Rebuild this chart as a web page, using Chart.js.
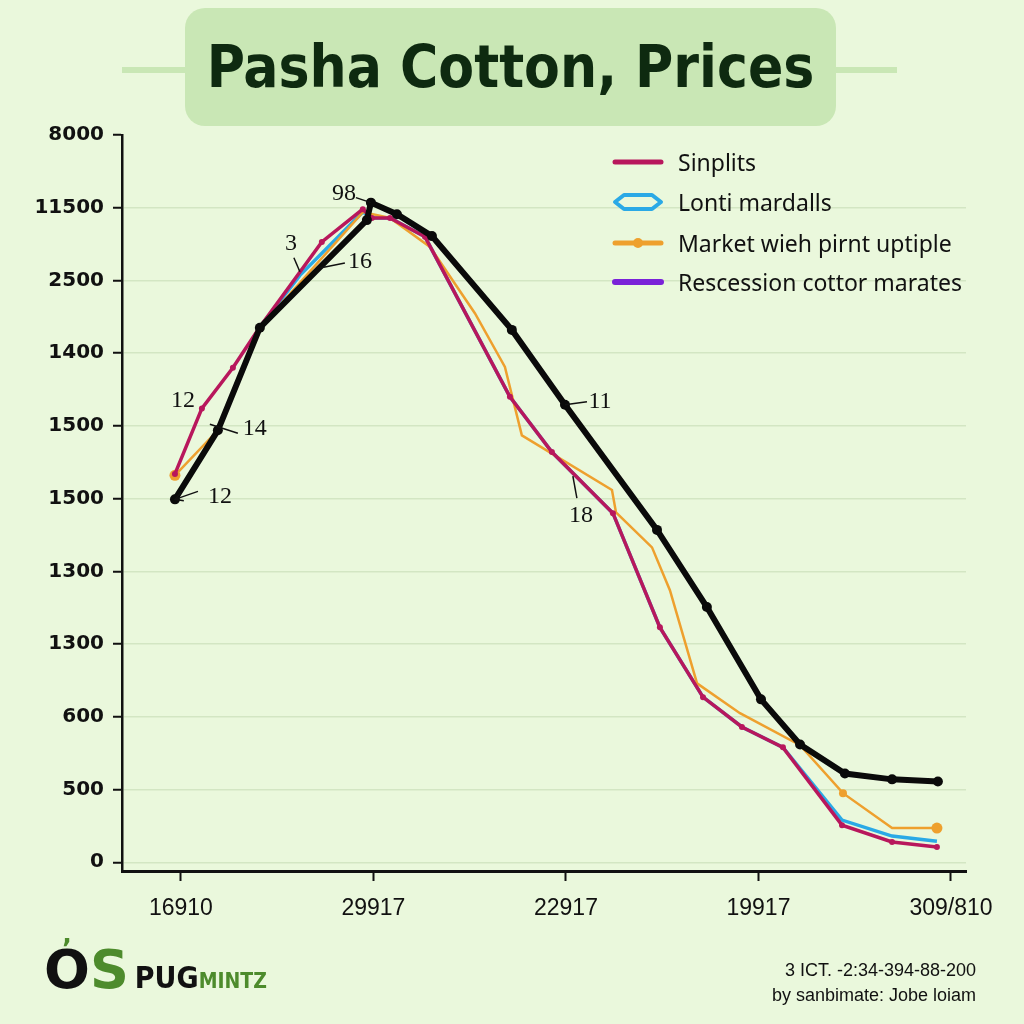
<!DOCTYPE html>
<html>
<head>
<meta charset="utf-8">
<script src="https://cdn.jsdelivr.net/npm/chart.js@4/dist/chart.umd.min.js"></script>
<style>
  html,body{margin:0;padding:0;background:#eaf8dc;}
  #wrap{position:relative;width:1024px;height:1024px;overflow:hidden;background:#eaf8dc;}
  canvas{position:absolute;left:0;top:0;}
  .deco{position:absolute;top:67px;height:6px;background:#c9e7b5;}
  #titlebox{position:absolute;left:185px;top:8px;width:651px;height:118px;background:#c9e7b5;border-radius:20px;
    display:flex;align-items:center;justify-content:center;}
  #title{font-family:"DejaVu Sans",sans-serif;font-stretch:condensed;font-weight:bold;font-size:58px;color:#0e2a10;
    white-space:nowrap;letter-spacing:0px;}
  #legend{position:absolute;left:612px;top:142px;font-family:"Noto Sans",sans-serif;font-size:23px;color:#111;}
  .lrow{position:absolute;left:0;height:40px;display:flex;align-items:center;white-space:nowrap;}
  .lrow svg{width:52px;height:24px;margin-right:14px;}
  #logo{position:absolute;left:44px;top:938px;white-space:nowrap;font-family:"DejaVu Sans",sans-serif;}
  #credit{position:absolute;right:48px;top:958px;text-align:right;font-family:"Liberation Sans Narrow","Liberation Sans",sans-serif;
    font-size:18px;line-height:25px;color:#111;}
</style>
</head>
<body>
<div id="wrap">
  <canvas id="c" width="1024" height="1024"></canvas>
  <div class="deco" style="left:122px;width:66px;"></div>
  <div class="deco" style="left:833px;width:64px;"></div>
  <div id="titlebox"><div id="title">Pasha Cotton, Prices</div></div>
  <div id="legend"></div>
  <div id="logo"><span style="font-size:54px;font-weight:bold;color:#111;position:relative;">O<span style="position:absolute;left:18px;top:-4px;font-size:26px;color:#4d8b2c;">&#x2019;</span></span><span style="font-size:54px;font-weight:bold;color:#4d8b2c;">S</span><span style="font-size:30px;font-weight:bold;color:#111;margin-left:6px;font-stretch:condensed;">PUG</span><span style="font-size:21px;font-weight:bold;color:#4d8b2c;font-stretch:condensed;">MINTZ</span></div>
  <div id="credit">3 ICT. -2:34-394-88-200<br>by sanbimate: Jobe loiam</div>
</div>
<script>
// ---------- data ----------
const seriesNames = ['Sinplits', 'Lonti mardalls', 'Market wieh pirnt uptiple', 'Rescession cottor marates'];
const xTickValues = [0, 1, 2, 3, 4];
const xTickLabels = ['16910', '29917', '22917', '19917', '309/810'];
const yTickValues = [0, 1, 2, 3, 4, 5, 6, 7, 8, 9, 10];
const yTickLabels = ['0', '500', '600', '1300', '1300', '1500', '1500', '1400', '2500', '11500', '8000'];

const blackX = [-0.031, 0.192, 0.410, 0.966, 0.987, 1.122, 1.304, 1.719, 1.995, 2.473, 2.732, 3.013, 3.216, 3.449, 3.694, 3.932];
const blackY = [4.99, 5.94, 7.35, 8.83, 9.07, 8.91, 8.61, 7.32, 6.29, 4.57, 3.51, 2.24, 1.62, 1.22, 1.14, 1.11];

const sinplitsX = [-0.031, 0.109, 0.270, 0.410, 0.732, 0.945, 0.992, 1.086, 1.268, 1.709, 1.927, 2.244, 2.488, 2.712, 2.914, 3.127, 3.434, 3.694, 3.927];
const sinplitsY = [5.34, 6.24, 6.80, 7.36, 8.53, 8.98, 8.86, 8.86, 8.60, 6.40, 5.64, 4.80, 3.23, 2.27, 1.86, 1.58, 0.51, 0.28, 0.21];

const lontiX = [0.410, 0.618, 0.945, 0.992, 1.086, 1.268, 1.709, 1.927, 2.244, 2.488, 2.712, 2.914, 3.127, 3.434, 3.694, 3.927];
const lontiY = [7.36, 8.07, 8.94, 8.86, 8.86, 8.60, 6.40, 5.64, 4.80, 3.23, 2.27, 1.86, 1.58, 0.58, 0.36, 0.29];

const marketX = [-0.031, 0.192, 0.410, 0.945, 1.086, 1.294, 1.527, 1.683, 1.771, 2.239, 2.260, 2.447, 2.540, 2.681, 2.904, 3.216, 3.439, 3.694, 3.927];
const marketY = [5.32, 5.94, 7.35, 8.94, 8.86, 8.46, 7.55, 6.81, 5.87, 5.12, 4.81, 4.33, 3.74, 2.46, 2.05, 1.61, 0.95, 0.47, 0.47];

const recessionX = [];
const recessionY = [];

// callout labels anchored to data points
const noteLabels = ['98', '3', '16', '12', '14', '12', '11', '18'];
const noteX = [0.987, 0.618, 0.722, 0.109, 0.192, -0.031, 1.995, 2.036];
const noteY = [9.07, 8.12, 8.17, 6.24, 5.94, 4.99, 6.29, 5.31];

// ---------- styles ----------
const colors = {black:'#0a0a0a', sinplits:'#b8175c', lonti:'#2aa9e6', market:'#eea02e', recession:'#7a22d8'};
// text offset, leader start offset (px) for each note
const noteStyle = [
  {tx:-27, ty:-9, l:[-15,-5]},
  {tx:-9, ty:-28, l:[-6,-14]},
  {tx:40, ty:-6, l:[25,-5]},
  {tx:-19, ty:-8, l:null},
  {tx:37, ty:-2, l:[20,3], from:[-8,-6]},
  {tx:45, ty:-3, l:[23,-8], arrow:true},
  {tx:35, ty:-3, l:[22,-3]},
  {tx:8, ty:40, l:[4,22]}
];

const toPts = (xs, ys) => xs.map((x, i) => ({x, y: ys[i]}));

// legend (HTML)
const swatches = [
  `<svg viewBox="0 0 52 24"><line x1="3" y1="12" x2="49" y2="12" stroke="${colors.sinplits}" stroke-width="5" stroke-linecap="round"/></svg>`,
  `<svg viewBox="0 0 52 24"><path d="M3,12 L12,5 L40,5 L49,12 L40,19 L12,19 Z" fill="none" stroke="${colors.lonti}" stroke-width="4" stroke-linejoin="round"/></svg>`,
  `<svg viewBox="0 0 52 24"><line x1="3" y1="12" x2="49" y2="12" stroke="${colors.market}" stroke-width="5" stroke-linecap="round"/><circle cx="26" cy="12" r="5" fill="${colors.market}"/></svg>`,
  `<svg viewBox="0 0 52 24"><line x1="3" y1="12" x2="49" y2="12" stroke="${colors.recession}" stroke-width="6" stroke-linecap="round"/></svg>`
];
const legendTops = [0, 40, 81, 120];
document.getElementById('legend').innerHTML = seriesNames.map((n, i) =>
  `<div class="lrow" style="top:${legendTops[i]}px">${swatches[i]}<span>${n}</span></div>`).join('');

// annotation plugin
const notesPlugin = {
  id: 'notes',
  afterDatasetsDraw(chart) {
    const {ctx, scales:{x, y}} = chart;
    ctx.save();
    ctx.font = '24px "Liberation Serif", "DejaVu Serif", serif';
    ctx.fillStyle = '#111';
    ctx.strokeStyle = '#111';
    ctx.lineWidth = 1.5;
    ctx.textAlign = 'center';
    ctx.textBaseline = 'middle';
    noteLabels.forEach((t, i) => {
      const px = x.getPixelForValue(noteX[i]);
      const py = y.getPixelForValue(noteY[i]);
      const s = noteStyle[i];
      if (s.l) {
        const fx = px + (s.from ? s.from[0] : 0), fy = py + (s.from ? s.from[1] : 0);
        ctx.beginPath();
        ctx.moveTo(fx, fy);
        ctx.lineTo(px + s.l[0], py + s.l[1]);
        ctx.stroke();
        if (s.arrow) {
          const ang = Math.atan2(s.l[1], s.l[0]);
          ctx.beginPath();
          ctx.moveTo(fx + 9*Math.cos(ang - 0.5), fy + 9*Math.sin(ang - 0.5));
          ctx.lineTo(fx, fy);
          ctx.lineTo(fx + 9*Math.cos(ang + 0.5), fy + 9*Math.sin(ang + 0.5));
          ctx.stroke();
        }
      }
      ctx.fillText(t, px + s.tx, py + s.ty);
    });
    ctx.restore();
  }
};

new Chart(document.getElementById('c'), {
  type: 'line',
  data: {
    datasets: [
      {label:'black', data: toPts(blackX, blackY), borderColor: colors.black, backgroundColor: colors.black,
        borderWidth: 6, pointRadius: 5, pointBorderWidth: 0, order: 0, tension: 0},
      {label: seriesNames[0], data: toPts(sinplitsX, sinplitsY), borderColor: colors.sinplits, backgroundColor: colors.sinplits,
        borderWidth: 3.5, pointRadius: 3, pointBorderWidth: 0, order: 1, tension: 0},
      {label: seriesNames[2], data: toPts(marketX, marketY), borderColor: colors.market, backgroundColor: colors.market,
        borderWidth: 2.5, pointRadius: (c) => (c.dataIndex === 0 || c.dataIndex === marketX.length - 1) ? 5.5 : (c.dataIndex === 16 ? 4 : 0),
        pointBorderWidth: 0, order: 2, tension: 0},
      {label: seriesNames[1], data: toPts(lontiX, lontiY), borderColor: colors.lonti, backgroundColor: colors.lonti,
        borderWidth: 3.5, pointRadius: 0, order: 3, tension: 0},
      {label: seriesNames[3], data: toPts(recessionX, recessionY), borderColor: colors.recession,
        borderWidth: 4, pointRadius: 0, order: 4}
    ]
  },
  options: {
    responsive: false,
    animation: false,
    events: [],
    layout: {padding: {left: 0, top: 135, right: 58, bottom: 0}},
    plugins: {legend: {display: false}, tooltip: {enabled: false}},
    scales: {
      x: {
        type: 'linear', min: -0.306, max: 4.078,
        afterFit(s) { s.height = 153; },
        afterBuildTicks(s) { s.ticks = xTickValues.map(v => ({value: v})); },
        grid: {drawOnChartArea: false, drawTicks: true, tickLength: 10, tickColor: '#111', tickWidth: 2},
        border: {display: true, color: '#111', width: 3},
        ticks: {
          callback: (v, i) => xTickLabels[i],
          padding: 14, color: '#111', maxRotation: 0, autoSkip: false,
          font: {family: '"Liberation Sans Narrow", "Liberation Sans", sans-serif', size: 23}
        }
      },
      y: {
        type: 'linear', min: -0.12, max: 10,
        afterFit(s) { s.width = 122; },
        afterBuildTicks(s) { s.ticks = yTickValues.map(v => ({value: v})); },
        grid: {color: (c) => c.tick && c.tick.value === 10 ? 'rgba(0,0,0,0)' : '#d3e6c3', lineWidth: 1.5,
          drawTicks: true, tickLength: 9, tickColor: '#111', tickWidth: 2},
        border: {display: true, color: '#111', width: 2.5},
        ticks: {
          callback: (v) => yTickLabels[v],
          padding: 9, color: '#111', autoSkip: false,
          font: {family: '"DejaVu Sans", sans-serif', size: 20, weight: 'bold'}
        }
      }
    }
  },
  plugins: [notesPlugin]
});
</script>
</body>
</html>
